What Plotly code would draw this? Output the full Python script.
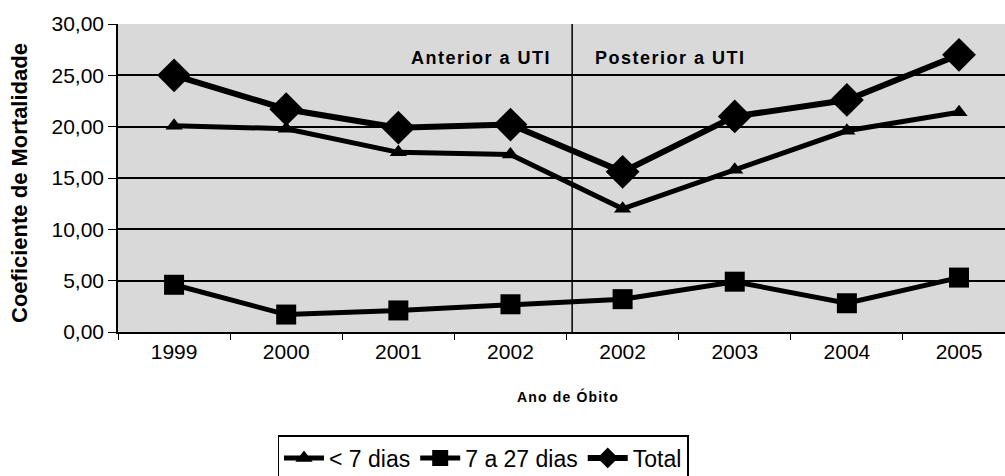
import plotly.graph_objects as go

anos = ["1999", "2000", "2001", "2002", "2002", "2003", "2004", "2005"]
menos7 = [20.1, 19.8, 17.5, 17.3, 12.0, 15.8, 19.6, 21.4]
de7a27 = [4.6, 1.7, 2.1, 2.7, 3.2, 4.9, 2.8, 5.3]
total = [25.0, 21.7, 19.9, 20.2, 15.6, 21.0, 22.6, 27.0]
yticks = [0, 5, 10, 15, 20, 25, 30]
ytext = ["0,00", "5,00", "10,00", "15,00", "20,00", "25,00", "30,00"]

W, H = 1005, 476
L, R, T, B = 118, 0, 24, 144
PW, PH = W - L - R, H - T - B

def px(xp):
    return (xp - L) / PW

def py(yp):
    return (H - B - yp) / PH

xs = list(range(len(anos)))
HS = "\u200a"

def spaced(s):
    return HS.join(list(s))

FONT = "Arial, Liberation Sans, sans-serif"

fig = go.Figure()
fig.add_trace(go.Scatter(x=xs, y=menos7, name="< 7 dias", mode="lines+markers",
                         line=dict(color="black", width=5),
                         marker=dict(symbol="triangle-up", size=15, color="black")))
fig.add_trace(go.Scatter(x=xs, y=de7a27, name="7 a 27 dias", mode="lines+markers",
                         line=dict(color="black", width=5),
                         marker=dict(symbol="square", size=20, color="black")))
fig.add_trace(go.Scatter(x=xs, y=total, name="Total", mode="lines+markers",
                         line=dict(color="black", width=6),
                         marker=dict(symbol="diamond", size=26, color="black")))

fig.add_shape(type="line", xref="x", yref="paper", x0=3.55, x1=3.55, y0=0, y1=1,
              line=dict(color="black", width=1.5))

fig.add_annotation(x=2.73, y=26.7, xref="x", yref="y", text="<b>" + spaced("Anterior a UTI") + "</b>",
                   showarrow=False, font=dict(family=FONT, size=18, color="black"))
fig.add_annotation(x=4.42, y=26.7, xref="x", yref="y", text="<b>" + spaced("Posterior a UTI") + "</b>",
                   showarrow=False, font=dict(family=FONT, size=18, color="black"))

fig.add_annotation(x=px(20), y=py(183), xref="paper", yref="paper",
                   text="<b>Coeficiente de Mortalidade</b>", xanchor="center", yanchor="middle",
                   showarrow=False, textangle=-90, font=dict(family=FONT, size=22, color="black"))
fig.add_annotation(x=px(567), y=py(396), xref="paper", yref="paper",
                   text="<b>" + spaced("Ano de Óbito") + "</b>", xanchor="center", yanchor="middle",
                   showarrow=False, font=dict(family=FONT, size=14, color="black"))

fig.update_layout(
    width=W, height=H,
    margin=dict(l=L, r=R, t=T, b=B, autoexpand=False),
    paper_bgcolor="white",
    plot_bgcolor="#d9d9d9",
    font=dict(family=FONT, color="black", size=20),
    showlegend=True,
    legend=dict(orientation="h", xref="container", yref="container",
                x=483 / W, xanchor="center", y=(H - 435) / H, yanchor="top",
                bordercolor="black", borderwidth=1.5, bgcolor="white",
                font=dict(size=23), itemwidth=40, tracegroupgap=0),
    xaxis=dict(range=[-0.5, 7.41], tickvals=xs, ticktext=anos, showgrid=False,
               ticks="", showline=True, linecolor="black", linewidth=1.5, automargin=False,
               zeroline=False, tickfont=dict(size=21),
               minor=dict(tickvals=[i - 0.5 for i in range(9)], ticks="outside", ticklen=6,
                          tickcolor="black", showgrid=False)),
    yaxis=dict(range=[0, 30], tickvals=yticks, ticktext=ytext, showgrid=True, automargin=False,
               gridcolor="black", gridwidth=1.5, ticks="outside", ticklen=8,
               tickcolor="black", showline=True, linecolor="black", linewidth=1.5,
               zeroline=False, tickfont=dict(size=21)),
)

fig.write_html("out.html", config={"displayModeBar": False},
               post_script="document.body.style.margin='0';document.body.style.overflow='hidden';")
